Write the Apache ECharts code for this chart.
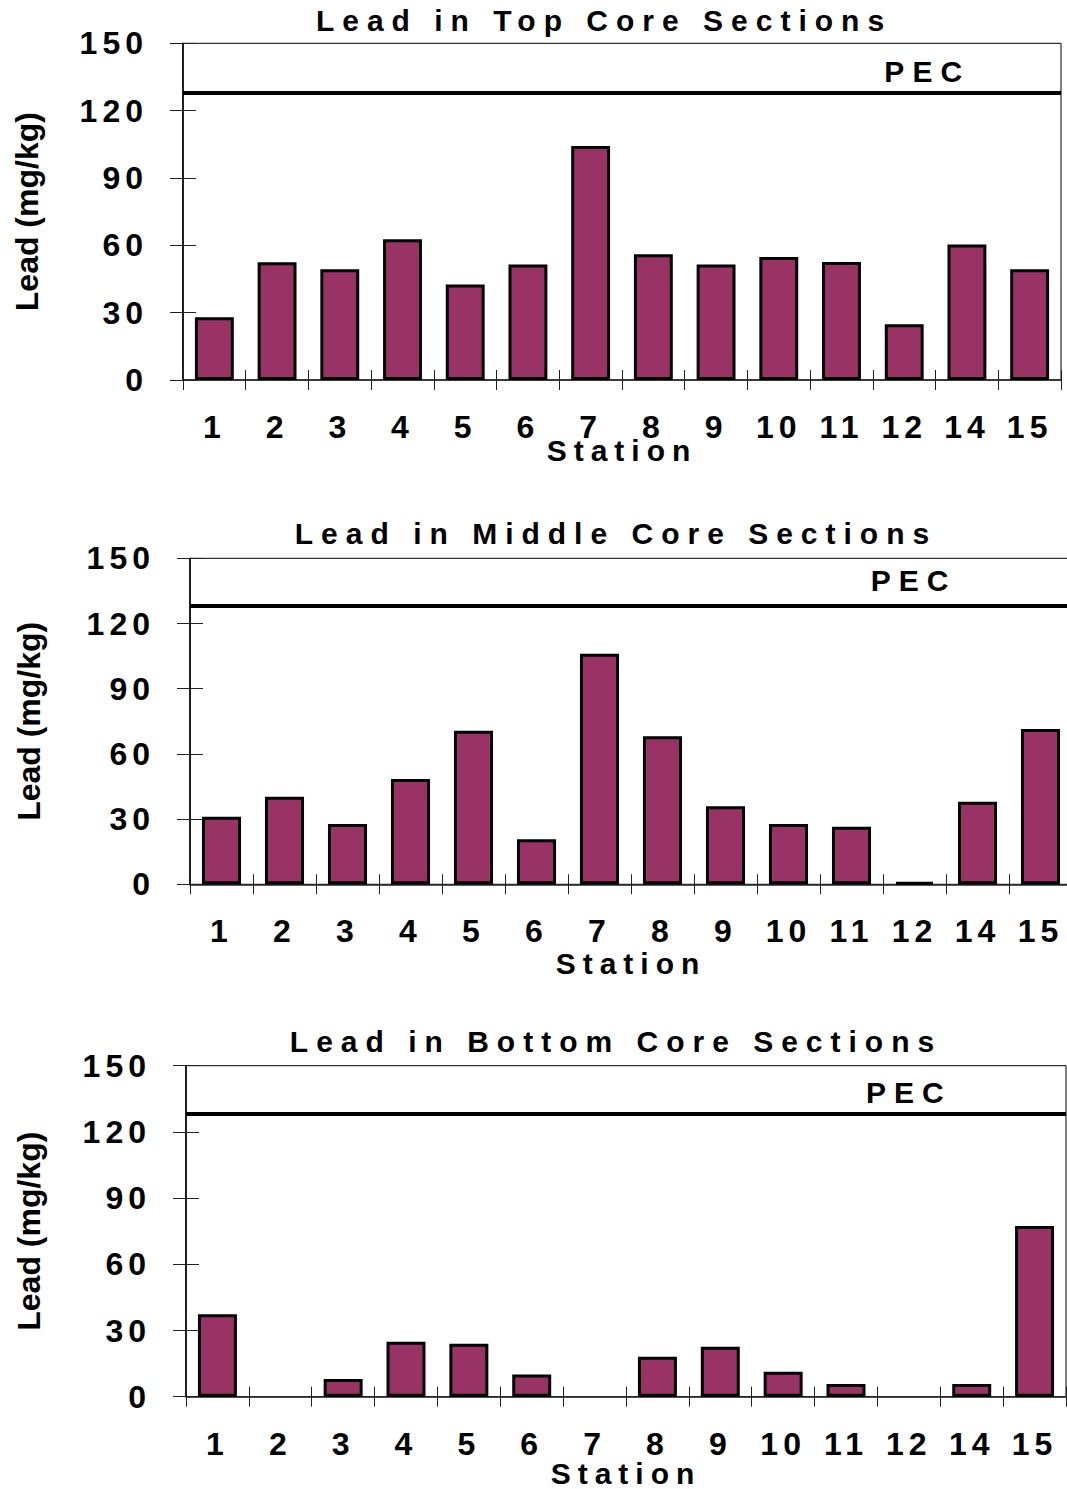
<!DOCTYPE html>
<html>
<head>
<meta charset="utf-8">
<script src="https://cdn.jsdelivr.net/npm/echarts@6/dist/echarts.min.js"></script>
<style>
  html, body { margin: 0; padding: 0; background: #fff; }
  #c { width: 1067px; height: 1489px; }
  text[style*="lsa"] { letter-spacing: 8px; }
  text[style*="lsb"] { letter-spacing: 5px; }
  text[style*="lsc"] { letter-spacing: 7px; }
</style>
</head>
<body>
<div id="c"></div>
<script>
// ---- data ----
const stations = ['1','2','3','4','5','6','7','8','9','10','11','12','14','15'];
const titles = ['Lead in Top Core Sections', 'Lead in Middle Core Sections', 'Lead in Bottom Core Sections'];
const topValues    = [28, 52.5, 49.3, 62.7, 42.6, 51.5, 104.3, 56, 51.5, 54.8, 52.6, 24.8, 60.4, 49.3];
const middleValues = [31.1, 40.3, 27.8, 48.5, 70.6, 20.7, 106.1, 68.1, 35.9, 27.8, 26.5, 1.0, 38.0, 71.5];
const bottomValues = [37.4, null, 8.0, 24.9, 24.0, 10.1, null, 18.1, 22.6, 11.3, 5.7, null, 5.7, 77.3];
const pecValue = 128;
const yTicks = { min: 0, max: 150, interval: 30 };
const xAxisName = 'Station';
const yAxisName = 'Lead (mg/kg)';
const pecLabel = 'PEC';

// ---- layout ----
const seriesValues = [topValues, middleValues, bottomValues];
const grids = [
  { left: 183, top: 43.3, width: 878, height: 336.7 },
  { left: 190, top: 558.3, width: 882, height: 326 },
  { left: 186, top: 1065.7, width: 880, height: 331 }
];
const titlePos = [ {x: 604, y: 5}, {x: 616, y: 518.5}, {x: 616, y: 1026.5} ];
const stationGap = [55, 64, 62];
const yNameGap = [140, 145, 141];
const pecOffset = [[23, -21], [-1, -26], [0, -22]];

const FS = 'Liberation Sans';
const color = '#993366';

const option = {
  animation: false,
  backgroundColor: '#ffffff',
  title: titles.map((t, i) => ({
    text: t, left: titlePos[i].x, top: titlePos[i].y, textAlign: 'center',
    padding: 0,
    textStyle: { fontFamily: FS + ', lsa', fontSize: 30, fontWeight: 'bold', color: '#000' }
  })),
  grid: grids.map(g => Object.assign({
    show: true, borderColor: '#000', borderWidth: 1, backgroundColor: 'transparent',
    containLabel: false, outerBoundsMode: 'none'
  }, g)),
  xAxis: [],
  yAxis: [],
  series: []
};

grids.forEach((g, i) => {
  option.xAxis.push({
    type: 'category', gridIndex: i, data: stations, position: 'bottom',
    name: xAxisName, nameLocation: 'middle', nameGap: stationGap[i], nameMoveOverlap: false,
    nameTextStyle: { fontFamily: FS + ', lsc', fontSize: 30, fontWeight: 'bold', color: '#000' },
    axisLine: { show: true, lineStyle: { color: '#222', width: 1.5 } },
    axisTick: { show: true, length: 10, alignWithLabel: false, lineStyle: { color: '#222', width: 1 } },
    axisLabel: { interval: 0, margin: 31, fontFamily: FS + ', lsb', fontSize: 32, fontWeight: 'bold', color: '#000', hideOverlap: false },
    splitLine: { show: false }
  });
  option.xAxis.push({
    type: 'category', gridIndex: i, data: stations, position: 'bottom',
    axisLine: { show: false },
    axisTick: { show: true, inside: true, length: 10, alignWithLabel: false, lineStyle: { color: '#222', width: 1 } },
    axisLabel: { show: false }, splitLine: { show: false }
  });
  option.yAxis.push({
    type: 'value', gridIndex: i, position: 'left',
    min: yTicks.min, max: yTicks.max, interval: yTicks.interval,
    name: yAxisName, nameLocation: 'middle', nameGap: yNameGap[i], nameRotate: 90, nameMoveOverlap: false,
    nameTextStyle: { fontFamily: FS, fontSize: 32, fontWeight: 'bold', color: '#000' },
    axisLine: { show: true, lineStyle: { color: '#000', width: 1.5 } },
    axisTick: { show: true, length: 13, lineStyle: { color: '#222', width: 1 } },
    axisLabel: { margin: 35, fontFamily: FS + ', lsb', fontSize: 32, fontWeight: 'bold', color: '#000' },
    splitLine: { show: false }
  });
  option.yAxis.push({
    type: 'value', gridIndex: i, position: 'left',
    min: yTicks.min, max: yTicks.max, interval: yTicks.interval,
    axisLine: { show: false },
    axisTick: { show: true, inside: true, length: 13, lineStyle: { color: '#222', width: 1 } },
    axisLabel: { show: false }, splitLine: { show: false }
  });
  option.series.push({
    type: 'bar', xAxisIndex: i * 2, yAxisIndex: i * 2,
    data: seriesValues[i],
    barWidth: '62%',
    itemStyle: { color: color, borderColor: '#000', borderWidth: 3 },
    emphasis: { disabled: true },
    markLine: {
      silent: true, symbol: ['none', 'none'],
      label: { show: false },
      lineStyle: { color: '#000', width: 4, type: 'solid' },
      data: [{ yAxis: pecValue }]
    },
    markPoint: {
      silent: true, symbol: 'circle', symbolSize: 0,
      itemStyle: { color: 'transparent' },
      label: { show: true, formatter: pecLabel, offset: pecOffset[i], fontFamily: FS + ', lsa', fontSize: 30, fontWeight: 'bold', color: '#000' },
      data: [{ coord: ['12', pecValue] }]
    }
  });
});

const chart = echarts.init(document.getElementById('c'), null, { renderer: 'svg', width: 1067, height: 1489 });
chart.setOption(option);
</script>
</body>
</html>
